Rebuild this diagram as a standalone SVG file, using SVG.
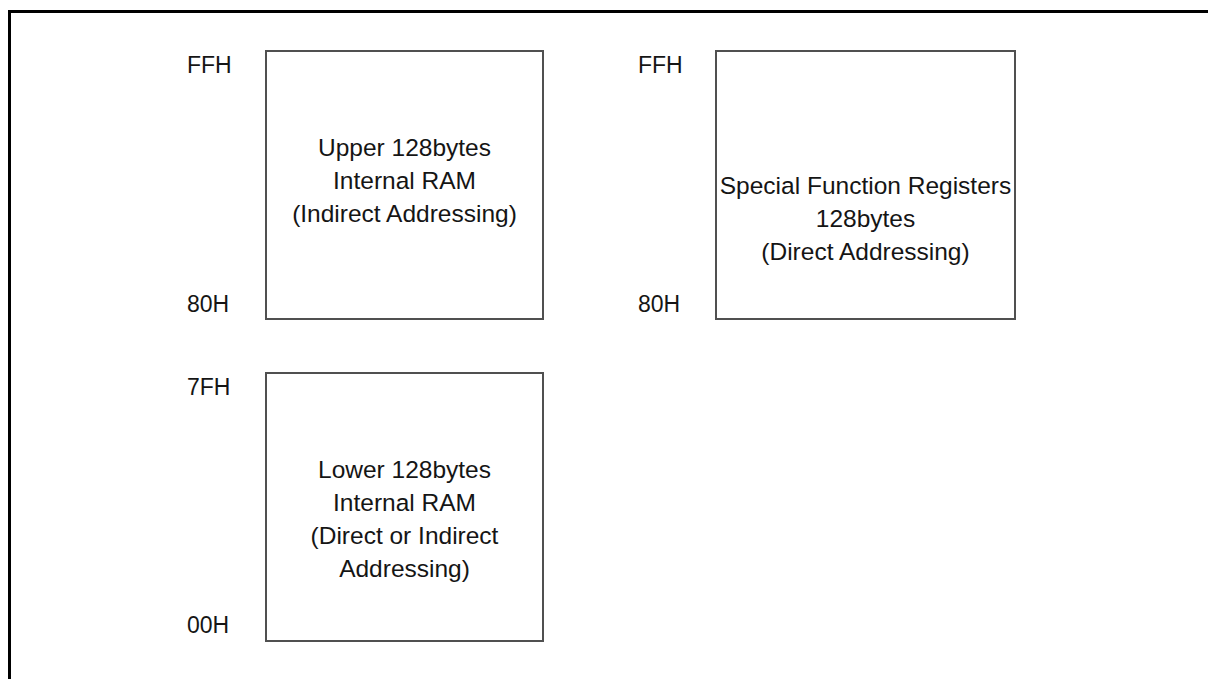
<svg xmlns="http://www.w3.org/2000/svg" width="1208" height="679" viewBox="0 0 1208 679">
  <style>
    .frame { stroke: #000; stroke-width: 3; fill: none; }
    .box { fill: #fff; stroke: #505050; stroke-width: 2; }
    .addr { font-family: "Liberation Sans", Arial, sans-serif; font-size: 23px; fill: #151515; }
    .body { font-family: "Liberation Sans", Arial, sans-serif; font-size: 24.5px; fill: #151515; text-anchor: middle; }
  </style>
  <rect width="1208" height="679" fill="#fff"/>
  <!-- page frame: top and left rules only -->
  <path class="frame" d="M9.5,679 V11.5 H1208"/>

  <g id="upper-ram">
    <rect class="box" x="266" y="51" width="277" height="268"/>
    <text class="addr" x="187" y="73">FFH</text>
    <text class="addr" x="187" y="312">80H</text>
    <text class="body" x="404.5" y="156">Upper 128bytes</text>
    <text class="body" x="404.5" y="189">Internal RAM</text>
    <text class="body" x="404.5" y="222">(Indirect Addressing)</text>
  </g>

  <g id="sfr">
    <rect class="box" x="716" y="51" width="299" height="268"/>
    <text class="addr" x="638" y="73">FFH</text>
    <text class="addr" x="638" y="312">80H</text>
    <text class="body" x="865.5" y="194">Special Function Registers</text>
    <text class="body" x="865.5" y="227">128bytes</text>
    <text class="body" x="865.5" y="260">(Direct Addressing)</text>
  </g>

  <g id="lower-ram">
    <rect class="box" x="266" y="373" width="277" height="268"/>
    <text class="addr" x="187" y="395">7FH</text>
    <text class="addr" x="187" y="633">00H</text>
    <text class="body" x="404.5" y="478">Lower 128bytes</text>
    <text class="body" x="404.5" y="511">Internal RAM</text>
    <text class="body" x="404.5" y="544">(Direct or Indirect</text>
    <text class="body" x="404.5" y="577">Addressing)</text>
  </g>

  <g id="connectors"/>
</svg>
